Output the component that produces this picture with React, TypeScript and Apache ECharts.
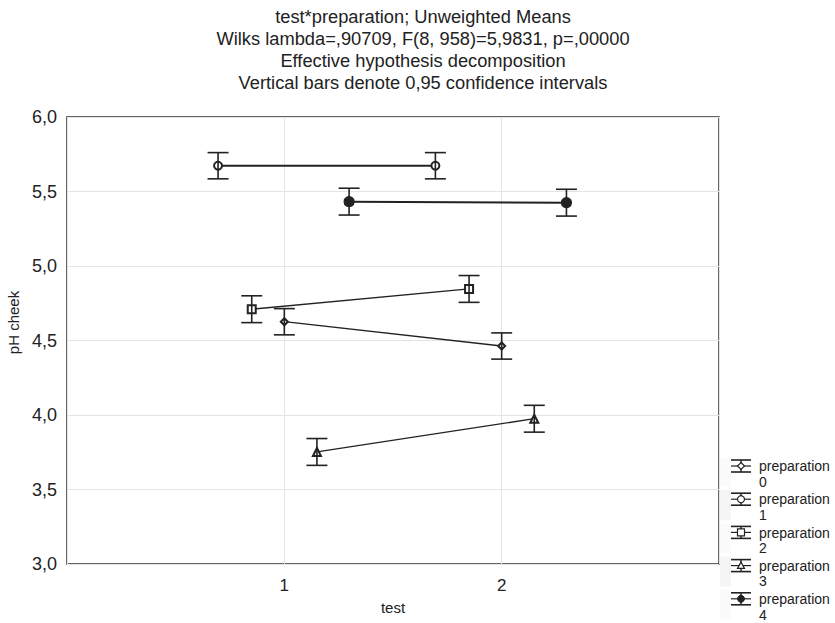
import React, { useEffect, useRef } from "react";
import * as echarts from "echarts";

const titleLines = [
  "test*preparation; Unweighted Means",
  "Wilks lambda=,90709, F(8, 958)=5,9831, p=,00000",
  "Effective hypothesis decomposition",
  "Vertical bars denote 0,95 confidence intervals",
];
const testLevels = [1, 2];
const seriesNames = ["preparation\n0", "preparation\n1", "preparation\n2", "preparation\n3", "preparation\n4"];
const prep0Means = [4.626, 4.463];
const prep1Means = [5.673, 5.673];
const prep2Means = [4.71, 4.846];
const prep3Means = [3.752, 3.975];
const prep4Means = [5.432, 5.425];
const prep0Ci = [0.088, 0.088];
const prep1Ci = [0.088, 0.088];
const prep2Ci = [0.09, 0.09];
const prep3Ci = [0.09, 0.09];
const prep4Ci = [0.09, 0.09];
const yTicks = [3.0, 3.5, 4.0, 4.5, 5.0, 5.5, 6.0];

const allMeans = [prep0Means, prep1Means, prep2Means, prep3Means, prep4Means];
const allCi = [prep0Ci, prep1Ci, prep2Ci, prep3Ci, prep4Ci];
// horizontal display offsets (layout only)
const offsets = [0, -0.305, -0.15, 0.15, 0.298];
const symbols = ["emptyDiamond", "emptyCircle", "emptyRect", "emptyTriangle", "circle"];
const symbolSizes = [7, 8, 8, 8, 10];
const lineWidths = [1.3, 2, 1.3, 1.3, 2];
const INK = "#222";
const FONT = "'Liberation Sans', Arial, sans-serif";

function markerGraphic(i: number, cx: number, cy: number) {
  const s = 3.5;
  const base = { style: { stroke: INK, lineWidth: 1.2, fill: "#fff" } } as any;
  if (i === 0)
    return { type: "polygon", shape: { points: [[cx, cy - s], [cx + s, cy], [cx, cy + s], [cx - s, cy]] }, ...base };
  if (i === 1) return { type: "circle", shape: { cx, cy, r: s }, ...base };
  if (i === 2) return { type: "rect", shape: { x: cx - s, y: cy - s, width: 2 * s, height: 2 * s }, ...base };
  if (i === 3)
    return { type: "polygon", shape: { points: [[cx, cy - s], [cx + s, cy + s * 0.8], [cx - s, cy + s * 0.8]] }, ...base };
  return { type: "circle", shape: { cx, cy, r: s }, style: { fill: INK, stroke: INK } };
}

export default function App() {
  const ref = useRef<HTMLDivElement>(null);
  useEffect(() => {
    if (!ref.current) return;
    const chart = echarts.init(ref.current, undefined, { renderer: "svg" });

    const lineSeries = allMeans.map((m, i) => ({
      type: "line",
      name: seriesNames[i],
      data: testLevels.map((t, k) => [t + offsets[i], m[k]]),
      symbol: symbols[i],
      symbolSize: symbolSizes[i],
      lineStyle: { color: INK, width: lineWidths[i] },
      itemStyle: { color: INK, borderColor: INK, borderWidth: 1.2 },
      z: 3,
    }));

    const errData: number[][] = [];
    allMeans.forEach((m, i) =>
      testLevels.forEach((t, k) => errData.push([t + offsets[i], m[k] - allCi[i][k], m[k] + allCi[i][k]]))
    );

    const errSeries = {
      type: "custom",
      name: "ci",
      z: 4,
      data: errData,
      renderItem: (params: any, api: any) => {
        const x = api.value(0);
        const lo = api.coord([x, api.value(1)]);
        const hi = api.coord([x, api.value(2)]);
        const hw = 10.5;
        const st = { stroke: INK, lineWidth: 1.6 };
        return {
          type: "group",
          children: [
            { type: "line", shape: { x1: lo[0], y1: lo[1], x2: hi[0], y2: hi[1] }, style: st },
            { type: "line", shape: { x1: lo[0] - hw, y1: lo[1], x2: lo[0] + hw, y2: lo[1] }, style: st },
            { type: "line", shape: { x1: hi[0] - hw, y1: hi[1], x2: hi[0] + hw, y2: hi[1] }, style: st },
          ],
        };
      },
    };

    const legendItems: any[] = [];
    seriesNames.forEach((name, i) => {
      const y = 466 + i * 33.2;
      const cx = 741;
      legendItems.push({
        type: "group",
        children: [
          { type: "rect", shape: { x: 720, y: y - 9, width: 11, height: 30 }, style: { fill: i % 2 === 0 ? "#fbfbfb" : "#f5f5f5" } },
          { type: "line", shape: { x1: 731, y1: y - 6, x2: 751, y2: y - 6 }, style: { stroke: INK, lineWidth: 1.6 } },
          { type: "line", shape: { x1: 731, y1: y + 6, x2: 751, y2: y + 6 }, style: { stroke: INK, lineWidth: 1.6 } },
          { type: "line", shape: { x1: 731, y1: y, x2: 751, y2: y }, style: { stroke: INK, lineWidth: 1.2 } },
          { type: "line", shape: { x1: cx, y1: y - 6, x2: cx, y2: y + 6 }, style: { stroke: INK, lineWidth: 1.4 } },
          markerGraphic(i, cx, y),
          {
            type: "text",
            x: 759,
            y: y - 7.5,
            style: { text: name, font: `14px ${FONT}`, fill: INK, lineHeight: 15.5 },
          },
        ],
      });
    });

    chart.setOption({
      animation: false,
      backgroundColor: "#fff",
      title: {
        text: titleLines.join("\n"),
        left: 418,
        top: 0,
        textAlign: "center",
        textStyle: { fontFamily: FONT, fontSize: 18.3, fontWeight: "normal", color: INK, lineHeight: 22 },
      },
      grid: {
        left: 67,
        right: 116,
        top: 117,
        bottom: 59,
        outerBoundsMode: "none",
        containLabel: false,
        show: true,
        borderColor: "#333",
        borderWidth: 1.5,
        backgroundColor: "transparent",
      },
      xAxis: {
        type: "value",
        min: 0,
        max: 3,
        interval: 1,
        name: "test",
        nameLocation: "middle",
        nameGap: 36,
        nameTextStyle: { fontFamily: FONT, fontSize: 15, color: INK },
        axisLine: { show: false },
        axisTick: { show: false },
        splitLine: { show: true, lineStyle: { color: "#e4e4e4", width: 1 } },
        axisLabel: {
          fontFamily: FONT,
          fontSize: 17,
          color: INK,
          margin: 13,
          formatter: (v: number) => (testLevels.includes(v) ? String(v) : ""),
        },
      },
      yAxis: {
        type: "value",
        min: yTicks[0],
        max: yTicks[yTicks.length - 1],
        interval: 0.5,
        name: "pH cheek",
        nameLocation: "middle",
        nameGap: 41,
        nameTextStyle: { fontFamily: FONT, fontSize: 15, color: INK, padding: [0, 0, 0, 36] },
        axisLine: { show: false },
        axisTick: { show: false },
        splitLine: { show: true, lineStyle: { color: "#e4e4e4", width: 1 } },
        axisLabel: {
          fontFamily: FONT,
          fontSize: 18,
          color: INK,
          margin: 10,
          formatter: (v: number) => v.toFixed(1).replace(".", ","),
        },
      },
      series: [...lineSeries, errSeries],
      graphic: legendItems,
    });
    return () => chart.dispose();
  }, []);
  return <div ref={ref} style={{ position: "absolute", left: 0, top: 0, width: 835, height: 623 }} />;
}
